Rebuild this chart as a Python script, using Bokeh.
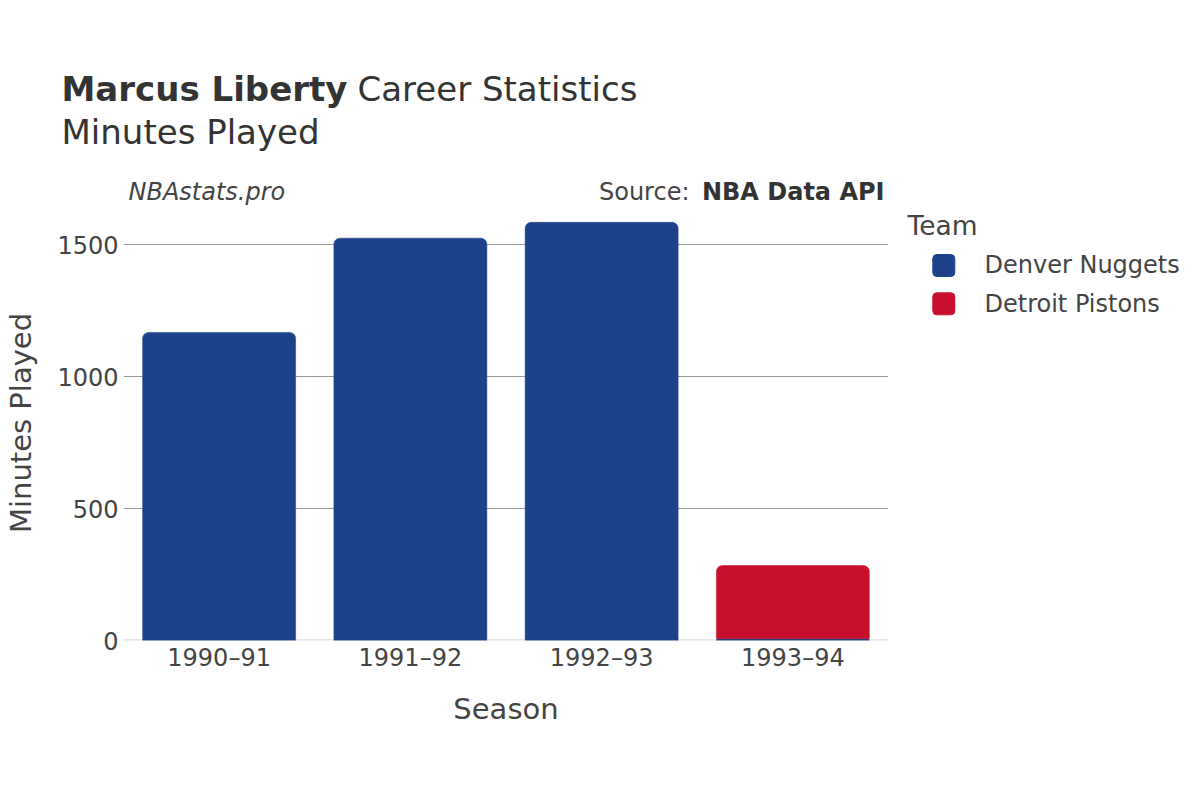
from bokeh.plotting import figure
from bokeh.models import FactorRange, Range1d, FixedTicker, ColumnDataSource, Span, Label
from bokeh.layouts import column, row
from bokeh.embed import file_html
from bokeh.resources import INLINE

seasons = ["1990–91", "1991–92", "1992–93", "1993–94"]
denver = [1167, 1524, 1584, 7]
detroit = [0, 0, 0, 277]
teams = ["Denver Nuggets", "Detroit Pistons"]
colors = ["#1D428A", "#C8102E"]
y_ticks = [0, 500, 1000, 1500]

FONT = "DejaVu Sans"
DARK = "#333333"
MID = "#444444"

W, H = 1184, 784          # whole page area
HEAD = 205                # height of the header strip
FRAME_L, FRAME_R, FRAME_B = 123, 888, 640
PX_PER_MIN = 0.264
main_h = H - HEAD
BASE_SHIFT = 0.41         # label anchor correction, in em


def blank(width, height, x0, x1, y0, y1, border_bottom=0):
    f = figure(width=width, height=height, x_range=Range1d(x0, x1), y_range=Range1d(y1, y0),
               x_axis_type=None, y_axis_type=None, output_backend="svg", toolbar_location=None,
               min_border_left=0, min_border_right=0, min_border_top=0,
               min_border_bottom=border_bottom, frame_align=False)
    f.outline_line_color = None
    f.background_fill_color = "white"
    f.border_fill_color = "white"
    return f


def label(f, text, x, y, size, style="normal", align="left", color=DARK):
    px = float(size.replace("px", ""))
    f.add_layout(Label(x=x, y=y - BASE_SHIFT * px, text=text, text_font=FONT,
                       text_font_size=size, text_font_style=style, text_align=align,
                       text_baseline="alphabetic", text_color=color))


# ---------------- header ----------------
head = blank(W, HEAD, 0, W, 0, HEAD)
label(head, "Marcus Liberty", 61, 102, "34px", "bold")
label(head, "Career Statistics", 357, 102, "34px")
label(head, "Minutes Played", 61, 145, "34px")
label(head, "NBAstats.pro", 128, 201, "24px", "italic", color=MID)
label(head, "NBA Data API", 884, 201, "24px", "bold", "right")
label(head, "Source:", 689, 201, "24px", "normal", "right", color=MID)

# ---------------- main chart ----------------
y_max = (FRAME_B - HEAD) / PX_PER_MIN
p = figure(width=FRAME_R, height=main_h, x_range=FactorRange(factors=seasons, range_padding=0),
           y_range=Range1d(0, y_max), output_backend="svg", toolbar_location=None,
           min_border_left=FRAME_L, min_border_right=0, min_border_top=0,
           min_border_bottom=H - FRAME_B, frame_align=False)
p.outline_line_color = None
p.background_fill_color = "white"
p.border_fill_color = "white"

p.add_layout(Span(location=0, dimension="width", line_color="#e6e6e6", line_width=3,
                  level="underlay"))

den_src = ColumnDataSource(dict(x=seasons, top=denver, bottom=[0] * len(seasons)))
p.vbar(x="x", top="top", bottom="bottom", width=0.8, source=den_src,
       fill_color=colors[0], line_color=colors[0], line_width=0.5,
       border_radius=(6, 6, 0, 0))
det_x = [s for s, v in zip(seasons, detroit) if v > 0]
det_b = [d for d, v in zip(denver, detroit) if v > 0]
det_t = [d + v for d, v in zip(denver, detroit) if v > 0]
det_src = ColumnDataSource(dict(x=det_x, top=det_t, bottom=det_b))
p.vbar(x="x", top="top", bottom="bottom", width=0.8, source=det_src,
       fill_color=colors[1], line_color=colors[1], line_width=0.5,
       border_radius=(6, 6, 0, 0))

p.xgrid.visible = False
p.ygrid.ticker = FixedTicker(ticks=y_ticks[1:])
p.ygrid.grid_line_color = "#999999"
p.ygrid.grid_line_width = 1

p.yaxis.ticker = FixedTicker(ticks=y_ticks)
for ax in (p.xaxis[0], p.yaxis[0]):
    ax.axis_line_color = None
    ax.major_tick_line_color = None
    ax.minor_tick_line_color = None
    ax.major_tick_out = 0
    ax.major_tick_in = 0
    ax.minor_tick_out = 0
    ax.major_label_text_font = FONT
    ax.major_label_text_font_size = "24px"
    ax.major_label_text_color = MID
    ax.axis_label_text_font = FONT
    ax.axis_label_text_font_size = "29px"
    ax.axis_label_text_font_style = "normal"
    ax.axis_label_text_color = MID

p.xaxis.axis_label = "Season"
p.yaxis.axis_label = "Minutes Played"
p.xaxis.major_label_standoff = 3
p.xaxis.axis_label_standoff = 17
p.yaxis.major_label_standoff = 5
p.yaxis.axis_label_standoff = 16

# ---------------- legend ----------------
# frame of the legend strip spans the same rows as the chart frame (HEAD .. FRAME_B)
leg = blank(W - FRAME_R, main_h, FRAME_R, W, HEAD, FRAME_B, border_bottom=H - FRAME_B)
label(leg, "Team", 907, 236, "26.5px", color=MID)
row0, pitch, sw = 265, 38.3, 22
rows_y = [row0 + pitch * i for i in range(len(teams))]
leg.quad(left=[932.3] * len(teams), right=[932.3 + sw] * len(teams),
         top=[y - sw / 2 for y in rows_y], bottom=[y + sw / 2 for y in rows_y],
         fill_color=colors, line_color=colors, border_radius=4)
for t, y in zip(teams, rows_y):
    label(leg, t, 984, y + 9.8, "24px", color=MID)

layout = column(head, row(p, leg))
open("out.html", "w").write(file_html(layout, INLINE))
